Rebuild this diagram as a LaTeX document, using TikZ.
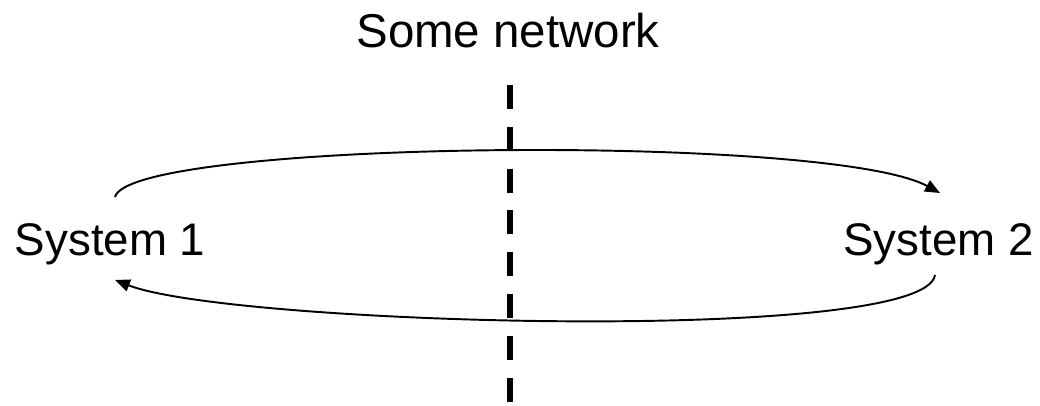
\documentclass[tikz,border=0pt]{standalone}
\usepackage{fontspec}
\setmainfont{Liberation Sans}
\usetikzlibrary{arrows.meta}

\begin{document}
\begin{tikzpicture}[>={Triangle[length=8.5pt,width=7pt]},
  label/.style={inner sep=0pt, font=\fontsize{26}{30}\selectfont},
  flow/.style={line width=1.1pt},
  wall/.style={line width=3.4pt, dash pattern=on 13.6pt off 10.2pt}]
  \useasboundingbox (0,0) rectangle (20.8,8.1);

  \node[label, anchor=base, font=\fontsize{27}{32}\selectfont] (net) at (10.16,7.16) {Some network};
  \node[label, anchor=base west] (sys1) at (0.29,3.0) {System 1};
  \node[label, anchor=base east] (sys2) at (20.68,3.0) {System 2};

  \coordinate (top) at (10.2,6.4);
  \coordinate (bot) at (10.2,0);
  \coordinate (a1) at (2.3,4.16);
  \coordinate (a2) at (18.8,4.24);
  \coordinate (b2) at (18.7,2.6);
  \coordinate (b1) at (2.3,2.5);

  % network boundary
  \draw[wall] (top) -- (bot);

  % 1 -> 2 over the top
  \draw[flow, ->] (a1) .. controls (2.6,5.3) and (16.6,5.44) .. (a2);

  % 2 -> 1 underneath
  \draw[flow, ->] (b2) .. controls (18.5,1.2) and (4.6,1.6) .. (b1);
\end{tikzpicture}
\end{document}
